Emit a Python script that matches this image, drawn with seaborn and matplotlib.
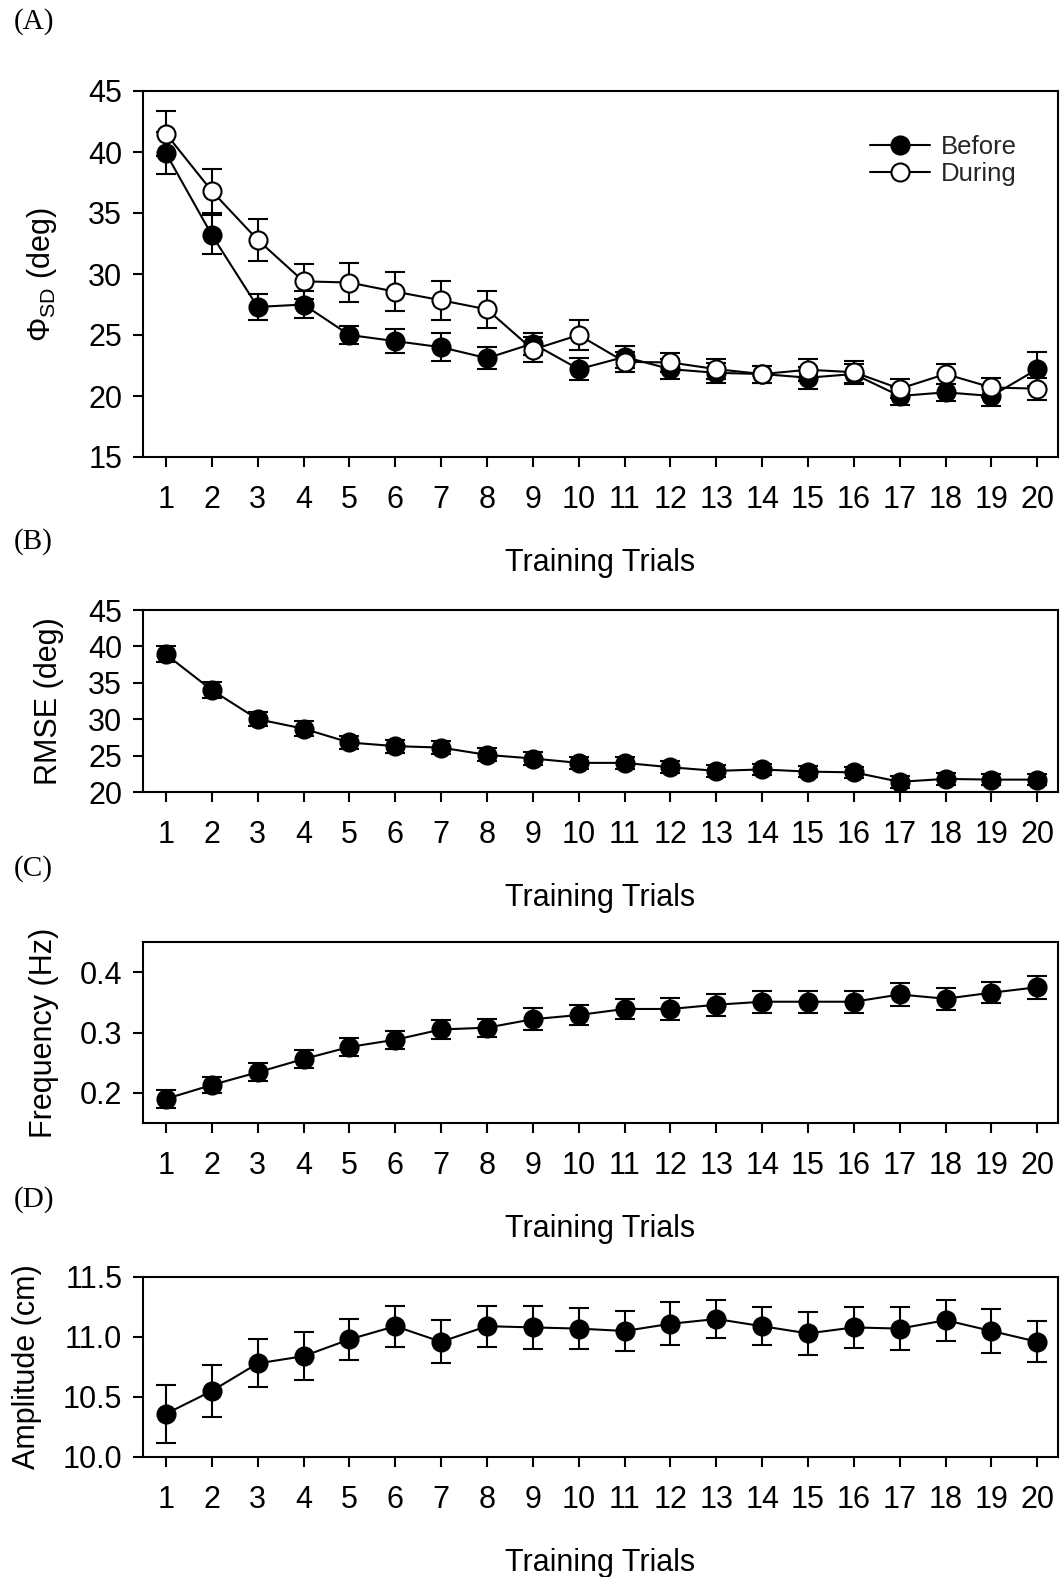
import numpy as np
import pandas as pd
import matplotlib
matplotlib.use("Agg")
import matplotlib.pyplot as plt
import seaborn as sns

# Training trials
trials = list(range(1, 21))

# (A) phi SD, before vs during
phi_before = [39.9, 33.2, 27.3, 27.5, 25.0, 24.5, 24.0, 23.1, 24.3, 22.2,
              23.2, 22.2, 21.9, 21.8, 21.5, 21.8, 20.0, 20.3, 20.0, 22.2]
phi_before_se = [1.7, 1.6, 1.1, 1.1, 0.7, 1.0, 1.15, 0.9, 0.9, 0.9,
                 0.9, 0.8, 0.8, 0.7, 0.9, 0.8, 0.75, 0.7, 0.8, 1.4]
phi_during = [41.5, 36.8, 32.8, 29.4, 29.3, 28.55, 27.85, 27.1, 23.8, 25.0,
              22.8, 22.75, 22.2, 21.8, 22.15, 21.95, 20.6, 21.8, 20.7, 20.6]
phi_during_se = [1.85, 1.8, 1.7, 1.45, 1.6, 1.6, 1.6, 1.5, 1.0, 1.2,
                 0.8, 0.8, 0.8, 0.7, 0.9, 0.9, 0.8, 0.8, 0.8, 0.9]

# (B) RMSE
rmse = [38.9, 34.0, 30.0, 28.7, 26.8, 26.3, 26.1, 25.1, 24.6, 24.0,
        24.0, 23.4, 22.9, 23.1, 22.8, 22.7, 21.4, 21.8, 21.7, 21.7]
rmse_se = [1.1, 1.1, 1.0, 1.0, 0.9, 0.9, 0.9, 0.9, 0.9, 0.8,
           0.8, 0.8, 0.8, 0.8, 0.8, 0.8, 0.8, 0.8, 0.8, 0.8]

# (C) Frequency
freq = [0.190, 0.213, 0.234, 0.256, 0.276, 0.288, 0.305, 0.308, 0.322, 0.329,
        0.339, 0.339, 0.346, 0.351, 0.351, 0.351, 0.363, 0.356, 0.366, 0.375]
freq_se = [0.015, 0.014, 0.015, 0.015, 0.015, 0.015, 0.015, 0.015, 0.018, 0.017,
           0.017, 0.018, 0.018, 0.018, 0.018, 0.018, 0.019, 0.018, 0.017, 0.019]

# (D) Amplitude
amp = [10.36, 10.55, 10.78, 10.84, 10.98, 11.09, 10.96, 11.09, 11.08, 11.07,
       11.05, 11.11, 11.15, 11.09, 11.03, 11.08, 11.07, 11.14, 11.05, 10.96]
amp_se = [0.24, 0.215, 0.20, 0.20, 0.17, 0.17, 0.18, 0.17, 0.18, 0.17,
          0.17, 0.18, 0.16, 0.16, 0.18, 0.17, 0.18, 0.17, 0.18, 0.17]

sns.set_theme(style="ticks")
plt.rcParams["font.family"] = ["Liberation Sans", "DejaVu Sans"]
plt.rcParams["mathtext.default"] = "regular"
plt.rcParams["axes.linewidth"] = 1.5
plt.rcParams["xtick.major.width"] = 1.5
plt.rcParams["ytick.major.width"] = 1.5
plt.rcParams["xtick.major.size"] = 7
plt.rcParams["ytick.major.size"] = 7
plt.rcParams["xtick.direction"] = "out"
plt.rcParams["ytick.direction"] = "out"

W, H = 1060, 1577
fig = plt.figure(figsize=(W / 100, H / 100), dpi=100)


def rect(top, bottom, left=143, right=1058):
    return [left / W, 1 - bottom / H, (right - left) / W, (bottom - top) / H]


axA = fig.add_axes(rect(91, 457))
axB = fig.add_axes(rect(610, 792))
axC = fig.add_axes(rect(942, 1123))
axD = fig.add_axes(rect(1277, 1457))

MS = 13
CAP = 7.5
LW = 1.5
FS = 22


def draw_series(ax, y, se, face, label=None, z=3):
    df = pd.DataFrame({"trial": trials, "value": y})
    ax.errorbar(trials, y, yerr=se, fmt="none", ecolor="black",
                elinewidth=LW, capsize=CAP, capthick=LW, zorder=z)
    sns.lineplot(data=df, x="trial", y="value", ax=ax, color="black",
                 linewidth=LW, marker="o", markersize=MS,
                 markerfacecolor=face, markeredgecolor="black",
                 markeredgewidth=1.5, label=label, zorder=z + 0.5,
                 legend=False)


draw_series(axA, phi_before, phi_before_se, "black", "Before", z=3)
draw_series(axA, phi_during, phi_during_se, "white", "During", z=4)
draw_series(axB, rmse, rmse_se, "black")
draw_series(axC, freq, freq_se, "black")
draw_series(axD, amp, amp_se, "black")

axA.set_ylim(15, 45)
axA.set_yticks([15, 20, 25, 30, 35, 40, 45])
axB.set_ylim(20, 45)
axB.set_yticks([20, 25, 30, 35, 40, 45])
axC.set_ylim(0.15, 0.45)
axC.set_yticks([0.2, 0.3, 0.4])
axC.set_yticklabels(["0.2", "0.3", "0.4"])
axD.set_ylim(10.0, 11.5)
axD.set_yticks([10.0, 10.5, 11.0, 11.5])
axD.set_yticklabels(["10.0", "10.5", "11.0", "11.5"])

ylabels = [r"$\Phi_{SD}$ (deg)", "RMSE (deg)", "Frequency (Hz)", "Amplitude (cm)"]
ypads = [21, 17, 15, 15]
for ax, yl, yp in zip([axA, axB, axC, axD], ylabels, ypads):
    ax.set_xlim(0.5, 20.45)
    ax.set_xticks(trials)
    ax.set_xticklabels([str(t) for t in trials])
    ax.tick_params(axis="both", labelsize=FS, colors="black")
    ax.tick_params(axis="x", pad=13)
    ax.tick_params(axis="y", pad=8)
    ax.tick_params(top=False, right=False)
    for s in ax.spines.values():
        s.set_visible(True)
        s.set_color("black")
        s.set_linewidth(1.5)
    ax.set_xlabel("Training Trials", fontsize=FS, labelpad=24, color="black")
    ax.set_ylabel(yl, fontsize=FS, labelpad=yp, color="black")

handles, labels = axA.get_legend_handles_labels()
axA.legend(handles, labels, loc="upper right", bbox_to_anchor=(0.975, 0.93),
           frameon=False, fontsize=18.5, handlelength=2.3, handletextpad=0.45,
           labelspacing=0.12, borderpad=0.2)

for lab, y in zip(["(A)", "(B)", "(C)", "(D)"], [22, 542, 869, 1200]):
    fig.text(14 / W, 1 - y / H, lab, fontsize=21, va="center", ha="left",
             family=["Liberation Serif", "DejaVu Serif"], color="black")

fig.savefig("out.png", dpi=100, facecolor="white")
